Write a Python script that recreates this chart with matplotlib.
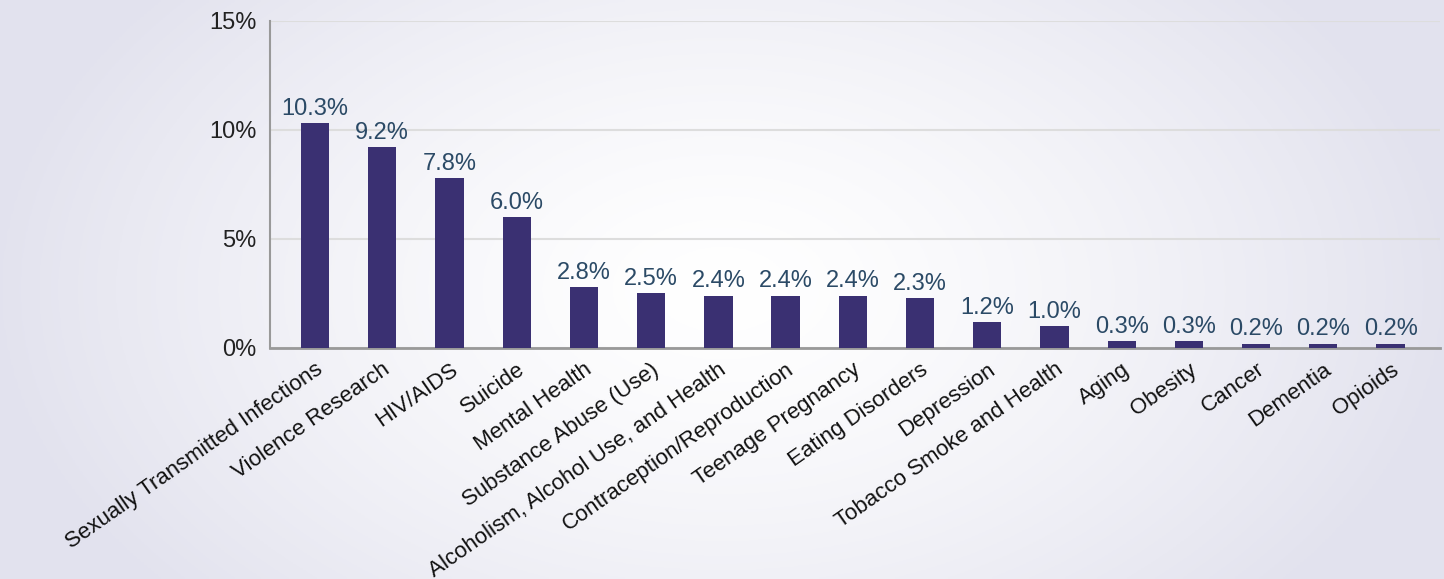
import numpy as np
import matplotlib.pyplot as plt
from matplotlib import font_manager

# data
categories = ["Sexually Transmitted Infections", "Violence Research", "HIV/AIDS",
              "Suicide", "Mental Health", "Substance Abuse (Use)",
              "Alcoholism, Alcohol Use, and Health", "Contraception/Reproduction",
              "Teenage Pregnancy", "Eating Disorders", "Depression",
              "Tobacco Smoke and Health", "Aging", "Obesity", "Cancer",
              "Dementia", "Opioids"]
values = [10.3, 9.2, 7.8, 6.0, 2.8, 2.5, 2.4, 2.4, 2.4, 2.3, 1.2, 1.0,
          0.3, 0.3, 0.2, 0.2, 0.2]
y_ticks = [0, 5, 10, 15]

names = {f.name for f in font_manager.fontManager.ttflist}
font = "Liberation Sans Narrow" if "Liberation Sans Narrow" in names else "Liberation Sans"
plt.rcParams['font.family'] = [font, 'DejaVu Sans']

bar_color = "#3a3072"
label_color = "#2b4a66"

fig = plt.figure(figsize=(14.44, 5.79), dpi=100)

# soft lavender background, whiter in the middle
bg = fig.add_axes([0, 0, 1, 1], zorder=-1)
xx, yy = np.meshgrid(np.linspace(-1, 1, 400), np.linspace(-1, 1, 200))
r = np.clip(np.sqrt((xx / 1.0) ** 2 + (yy / 1.6) ** 2), 0, 1)
edge = np.array([0.89, 0.89, 0.935])
img = 1 - (1 - edge) * r[..., None] ** 1.4
bg.imshow(img, aspect='auto', extent=[0, 1, 0, 1])
bg.axis("off")

ax = fig.add_axes([0.187, 0.399, 0.81, 0.565])
ax.patch.set_alpha(0)
x = np.arange(len(categories))
ax.bar(x, values, width=0.42, color=bar_color, zorder=3)

for xi, v in zip(x, values):
    ax.text(xi, v + 0.15, f"{v:.1f}%", ha='center', va='bottom',
            fontsize=17, color=label_color, zorder=4)

ax.set_xlim(-0.67, len(categories) - 0.27)
ax.set_ylim(0, 15)
ax.set_yticks(y_ticks)
ax.set_yticklabels([f"{t}%" for t in y_ticks], fontsize=17, color="#222222")
ax.yaxis.grid(True, color="#dddddd", linewidth=1.5, zorder=0)
ax.tick_params(axis='y', length=0, pad=10)
ax.tick_params(axis='x', length=0, pad=8)
ax.set_xticks(x)
ax.set_xticklabels(categories, rotation=35, ha='right', va='top',
                   rotation_mode='anchor', fontsize=16, color="#111111")

for s in ['top', 'right']:
    ax.spines[s].set_visible(False)
ax.spines['left'].set_color("#999999")
ax.spines['left'].set_linewidth(1.5)
ax.spines['bottom'].set_color("#999999")
ax.spines['bottom'].set_linewidth(2)

fig.savefig("out.png", dpi=100)
